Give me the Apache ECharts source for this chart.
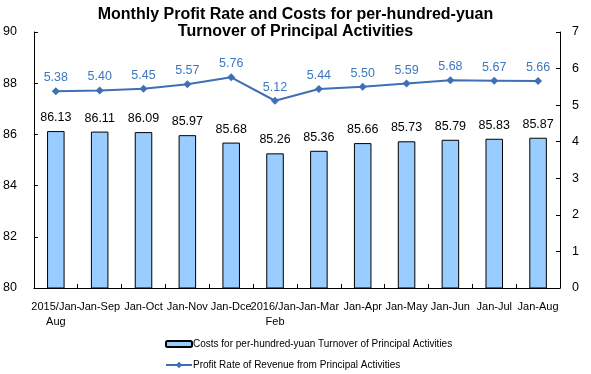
<!DOCTYPE html>
<html>
<head>
<meta charset="utf-8">
<script src="https://cdn.jsdelivr.net/npm/echarts@6/dist/echarts.min.js"></script>
<style>
html,body{margin:0;padding:0;background:#fff;}
#chart{width:591px;height:374px;}
</style>
</head>
<body>
<div id="chart"></div>
<script>
var categories = ['2015/Jan-\nAug','Jan-Sep','Jan-Oct','Jan-Nov','Jan-Dce','2016/Jan-\nFeb','Jan-Mar','Jan-Apr','Jan-May','Jan-Jun','Jan-Jul','Jan-Aug'];
var costValues = [86.13, 86.11, 86.09, 85.97, 85.68, 85.26, 85.36, 85.66, 85.73, 85.79, 85.83, 85.87];
var profitValues = [5.38, 5.40, 5.45, 5.57, 5.76, 5.12, 5.44, 5.50, 5.59, 5.68, 5.67, 5.66];
var costName = 'Costs for per-hundred-yuan Turnover of Principal Activities';
var profitName = 'Profit Rate of Revenue from Principal Activities';

var chart = echarts.init(document.getElementById('chart'), null, {renderer: 'canvas'});
var font = '"Liberation Sans", Arial, sans-serif';
var legendText = {fontFamily: font, fontSize: 10, color: '#000', padding: [0,0,0,-4]};
chart.setOption({
  animation: false,
  backgroundColor: '#fff',
  textStyle: {fontFamily: font},
  title: {
    text: 'Monthly Profit Rate and Costs for per-hundred-yuan\nTurnover of Principal Activities',
    left: 'center',
    top: 1,
    textStyle: {fontFamily: font, fontSize: 16, fontWeight: 'bold', color: '#000', lineHeight: 17}
  },
  legend: [
    {
      left: 160, top: 334, itemWidth: 26, itemHeight: 6,
      textStyle: legendText,
      data: [costName]
    },
    {
      left: 160, top: 355, itemWidth: 26, itemHeight: 8,
      textStyle: legendText,
      data: [profitName]
    }
  ],
  grid: {left: 33, right: 31, top: 32, bottom: 86, containLabel: false},
  xAxis: {
    type: 'category',
    data: categories,
    boundaryGap: true,
    axisLine: {lineStyle: {color: '#000', width: 1}},
    axisTick: {show: true, inside: true, length: 4, alignWithLabel: false, lineStyle: {color: '#000'}},
    axisLabel: {interval: 0, color: '#000', fontSize: 11, fontFamily: font, margin: 11, lineHeight: 15}
  },
  yAxis: [
    {
      type: 'value', min: 80, max: 90, interval: 2,
      axisLine: {show: true, lineStyle: {color: '#000'}},
      axisTick: {show: true, inside: true, length: 4, lineStyle: {color: '#000'}},
      splitLine: {show: false},
      axisLabel: {color: '#000', fontSize: 12.5, fontFamily: font, margin: 17}
    },
    {
      type: 'value', min: 0, max: 7, interval: 1,
      axisLine: {show: true, lineStyle: {color: '#000'}},
      axisTick: {show: true, inside: true, length: 4, lineStyle: {color: '#000'}},
      splitLine: {show: false},
      axisLabel: {color: '#000', fontSize: 12.5, fontFamily: font, margin: 12}
    }
  ],
  series: [
    {
      name: costName,
      type: 'bar',
      yAxisIndex: 0,
      data: costValues,
      barWidth: '40%',
      itemStyle: {color: '#99CCFF', borderColor: '#000', borderWidth: 1},
      label: {show: true, position: 'top', distance: 7, color: '#000', fontSize: 12.5, fontFamily: font,
        formatter: function(p){ return p.value.toFixed(2); }}
    },
    {
      name: profitName,
      type: 'line',
      yAxisIndex: 1,
      data: profitValues,
      symbol: 'diamond',
      symbolSize: 8,
      lineStyle: {color: '#3F6FB5', width: 2},
      itemStyle: {color: '#3F6FB5'},
      label: {show: true, position: 'top', distance: 3, color: '#3D78BE', fontSize: 12.5, fontFamily: font,
        formatter: function(p){ return p.value.toFixed(2); }}
    }
  ]
});
</script>
</body>
</html>
